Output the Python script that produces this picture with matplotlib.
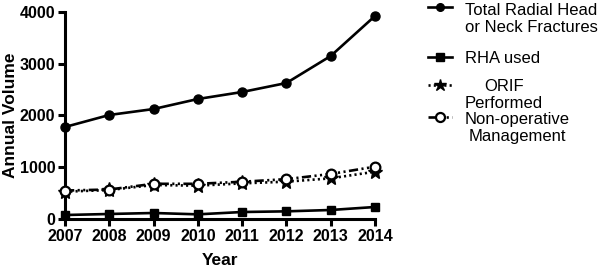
import matplotlib
matplotlib.use("Agg")
import matplotlib.pyplot as plt
from matplotlib.lines import Line2D

years = [2007, 2008, 2009, 2010, 2011, 2012, 2013, 2014]
total = [1778, 2010, 2125, 2319, 2454, 2628, 3150, 3923]
rha = [77, 97, 116, 90, 135, 148, 174, 232]
orif = [528, 560, 657, 644, 689, 721, 786, 914]
nonop = [550, 570, 680, 680, 720, 770, 870, 1011]
labels = ["Total Radial Head\nor Neck Fractures", "RHA used", "ORIF\nPerformed",
          "Non-operative\nManagement"]
yticks = [0, 1000, 2000, 3000, 4000]

plt.rcParams['font.family'] = ['Liberation Sans', 'DejaVu Sans']

fig = plt.figure(figsize=(6, 2.68), dpi=100)
ax = fig.add_axes([65/600, 1-219/268, (375-65)/600, (219-12)/268])

lw = 1.9
styles = [
    dict(color='black', lw=lw, marker='o', ms=6.5, mfc='black', ls='-'),
    dict(color='black', lw=lw, marker='s', ms=6, mfc='black', ls='-'),
    dict(color='black', lw=lw, marker='*', ms=11, mfc='black', ls=(0, (0.8, 1.2))),
    dict(color='black', lw=lw, marker='o', ms=7, mfc='white', mew=1.6, ls=(0, (3.5, 1.3, 0.8, 1.3, 0.8, 1.3))),
]
series = [total, rha, orif, nonop]
for s, st in zip(series, styles):
    ax.plot(years, s, clip_on=False, zorder=3, **st)

ax.set_xlim(2007, 2014)
ax.set_ylim(0, 4000)
ax.set_xticks(years)
ax.set_yticks(yticks)
ax.set_xticklabels([str(y) for y in years], fontsize=11.5, fontweight='bold')
ax.set_yticklabels([str(y) for y in yticks], fontsize=11.5, fontweight='bold')
for sp in ['top', 'right']:
    ax.spines[sp].set_visible(False)
for sp in ['left', 'bottom']:
    ax.spines[sp].set_linewidth(2.2)
ax.tick_params(width=2.2, length=5, direction='out', pad=2)
ax.set_xlabel('Year', fontsize=12.5, fontweight='bold', labelpad=7)
ax.set_ylabel('Annual Volume', fontsize=12.5, fontweight='bold', labelpad=1)

# manual legend
handle_y = [7, 57, 85, 117]
base_y = [32, 63, 108, 141]  # baseline of last text line
leg_ms = [5.5, 5.5, 9, 6.5]
fs = 12
for lab, st, hy, by, ms in zip(labels, styles, handle_y, base_y, leg_ms):
    yf = 1 - hy/268
    d = dict(st)
    d['ms'] = ms
    ln = Line2D([428/600, 440/600, 452/600], [yf, yf, yf], transform=fig.transFigure,
                markevery=[1], **d)
    fig.add_artist(ln)
    fig.text(465/600, 1 - by/268, lab, ha='left', va='baseline', fontsize=fs,
             multialignment='center', linespacing=1.2, transform=fig.transFigure)

fig.savefig('out.png', dpi=100)
